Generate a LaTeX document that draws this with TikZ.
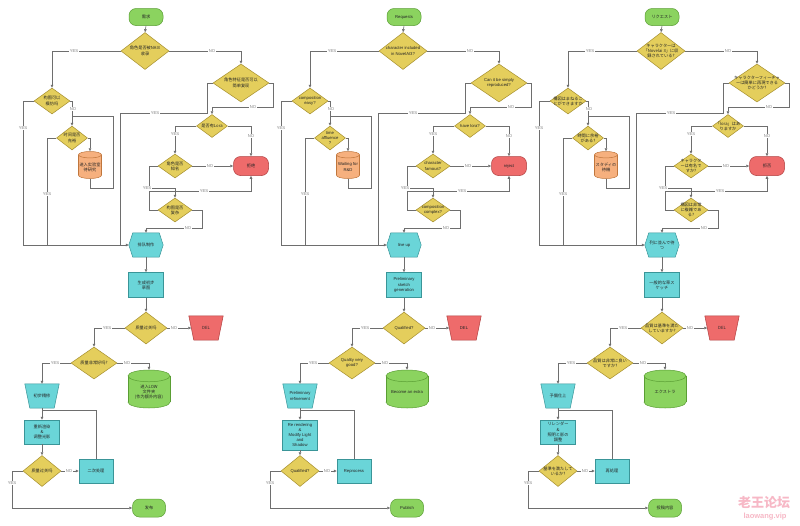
\documentclass[tikz,border=0pt]{standalone}
\usepackage{fontspec}
\setmainfont{Liberation Sans}
\newfontfamily\cnfont{Noto Sans CJK SC}
\newfontfamily\jpfont{Noto Sans CJK JP}
\usetikzlibrary{shapes.geometric,arrows.meta}
\definecolor{gF}{HTML}{8BD35F}
\definecolor{gD}{HTML}{5A9E34}
\definecolor{yF}{HTML}{E4CE5C}
\definecolor{yD}{HTML}{A68F2E}
\definecolor{oF}{HTML}{F6B07E}
\definecolor{oD}{HTML}{C0763C}
\definecolor{rF}{HTML}{EE6B6B}
\definecolor{rD}{HTML}{B04040}
\definecolor{cF}{HTML}{6AD5D8}
\definecolor{cD}{HTML}{3A9598}
\definecolor{lineC}{HTML}{6E6E6E}
\definecolor{pinkC}{HTML}{F7B8C6}
\tikzset{
  every node/.style={inner sep=0pt},
  base/.style={draw, line width=0.5pt},
  term/.style={base, rectangle, rounded corners=7pt, minimum width=34pt, minimum height=17pt, fill=gF, draw=gD},
  dia/.style={base, diamond, fill=yF, draw=yD},
  proc/.style={base, rectangle, fill=cF, draw=cD, minimum width=35pt, minimum height=25pt},
  rejs/.style={base, rectangle, rounded corners=7pt, fill=rF, draw=rD, minimum width=35pt, minimum height=19pt},
  txt/.style={align=center, font=\colfont\fontsize{4.2}{5.2}\selectfont, text=black!85},
  lab/.style={fill=white, inner sep=0.6pt, font=\fontsize{4.2}{5}\selectfont, text=black!50},
  conn/.style={draw=lineC, line width=0.6pt},
  arr/.style={conn, -{Triangle[length=3pt,width=2.6pt]}},
}
\newcommand\shp[4]{\node[#1] (#2) at (#3) {}; \node[txt] (#2-t) at (#2) {#4};}
\newcommand\cyl[6]{%
  \pgfmathsetmacro\cRx{#4/2}%
  \pgfmathsetmacro\cRy{#4*0.14}%
  \pgfmathsetmacro\cYt{#3-#5/2+\cRy}%
  \pgfmathsetmacro\cYb{#3+#5/2-\cRy}%
  \pgfmathsetmacro\cXl{#2-\cRx}%
  \pgfmathsetmacro\cXr{#2+\cRx}%
  \draw[base,#6] (#2,\cYb) ellipse [x radius=\cRx pt, y radius=\cRy pt];
  \fill[#6,draw=none] (\cXl,\cYt) rectangle (\cXr,\cYb);
  \draw[base,#6,fill=none] (\cXl,\cYt) -- (\cXl,\cYb) (\cXr,\cYt) -- (\cXr,\cYb);
  \draw[base,#6] (#2,\cYt) ellipse [x radius=\cRx pt, y radius=\cRy pt];
  \node[minimum width=#4pt,minimum height=#5pt] (#1) at (#2,#3) {};
}
\newcommand\trapz[4]{%
  \node[minimum width=34pt,minimum height=24pt] (#1) at (#2) {};
  \draw[base,#3] (#1.north west) -- (#1.north east) -- ([xshift=-5pt]#1.south east) -- ([xshift=5pt]#1.south west) -- cycle;
  \node[txt] (#1-t) at (#1) {#4};
}
\newcommand\flow[2]{%
\begin{scope}[xshift=#1pt]
  \shp{term}{#2st}{146,17}{\tSt}
  \shp{dia,minimum width=48pt,minimum height=37pt}{#2d1}{145,51}{\tDa}
  \shp{dia,minimum width=56pt,minimum height=38pt}{#2d3}{241,83}{\tDc}
  \shp{dia,minimum width=36pt,minimum height=26pt}{#2d2}{52,101}{\tDb}
  \shp{dia,minimum width=31pt,minimum height=24pt}{#2d4}{72,138}{\tDd}
  \cyl{#2co}{90}{165}{23}{27}{fill=oF,draw=oD}
  \node[txt] (#2co-t) at ([yshift=-2pt]#2co) {\tCo};
  \shp{dia,minimum width=31pt,minimum height=23pt}{#2lo}{212,126}{\tLo}
  \shp{dia,minimum width=34pt,minimum height=24pt}{#2fa}{175,166}{\tFa}
  \shp{rejs}{#2rj}{251,166}{\tRj}
  \shp{dia,minimum width=34pt,minimum height=24pt}{#2cp}{175,210}{\tCp}
  \node[minimum width=34pt,minimum height=24pt] (#2hx) at (146,245) {};
  \draw[base,fill=cF,draw=cD] (#2hx.west) -- ([xshift=4pt]#2hx.north west) -- ([xshift=-4pt]#2hx.north east) -- (#2hx.east) -- ([xshift=-4pt]#2hx.south east) -- ([xshift=4pt]#2hx.south west) -- cycle;
  \node[txt] (#2hx-t) at (#2hx) {\tHx};
  \shp{proc}{#2sk}{146,285}{\tSk}
  \shp{dia,minimum width=42pt,minimum height=32pt}{#2q1}{146,328}{\tQa}
  \trapz{#2dl}{206,328}{fill=rF,draw=rD}{DEL}
  \shp{dia,minimum width=46pt,minimum height=32pt}{#2q2}{94,363}{\tQb}
  \cyl{#2cg}{149}{389}{42}{38}{fill=gF,draw=gD}
  \node[txt] (#2cg-t) at ([yshift=-3pt]#2cg) {\tCg};
  \trapz{#2rf}{42,396}{fill=cF,draw=cD}{\tRf}
  \shp{proc,minimum height=\rrH}{#2rr}{42,\rrY}{\tRr}
  \shp{dia,minimum width=38pt,minimum height=31pt}{#2q3}{42,471}{\tQc}
  \shp{proc,minimum width=34pt,minimum height=24pt}{#2rp}{96,471}{\tRp}
  \shp{term,minimum width=33pt,minimum height=18pt}{#2pb}{149,508}{\tPb}
  % connectors
  \draw[arr] (#2st.south) -- (#2d1.north);
  \draw[arr] (#2d1.west) -| (#2d2.north);
  \draw[arr] (#2d1.east) -| (#2d3.north);
  \draw[arr] (#2d2.west) -| (23,245) -- (#2hx.west);
  \draw[arr] (#2d2.east) -| (#2d4.north);
  \draw[conn] (#2co.south) |- (113,188) |- (72,116);
  \draw[conn] (#2d4.west) -| (47,245);
  \draw[arr] (#2d4.east) -| (#2co.north);
  \draw[conn] (#2d3.west) -| (207,113) -| (120,245);
  \draw[arr] (#2d3.east) -| (273,107) -| (#2lo.north);
  \draw[arr] (#2lo.west) -| (#2fa.north);
  \draw[arr] (#2lo.east) -| (#2rj.north);
  \draw[arr] (#2fa.east) -- (#2rj.west);
  \draw[arr] (#2fa.west) -| (149,188) -| (#2cp.north);
  \draw[arr] (#2cp.west) -| (149,191) -| (#2rj.south);
  \draw[arr] (#2cp.east) -| (202,228) -| (#2hx.north);
  \draw[arr] (#2hx.south) -- (#2sk.north);
  \draw[arr] (#2sk.south) -- (#2q1.north);
  \draw[arr] (#2q1.east) -- ([xshift=2.5pt]#2dl.west);
  \draw[arr] (#2q1.west) -| (#2q2.north);
  \draw[arr] (#2q2.west) -| (#2rf.north);
  \draw[arr] (#2q2.east) -| (#2cg.north);
  \draw[arr] (#2rf.south) -- (#2rr.north);
  \draw[arr] (#2rr.south) -- (#2q3.north);
  \draw[arr] (#2q3.east) -- (#2rp.west);
  \draw[conn] (#2rp.north) |- (42,410);
  \draw[arr] (#2q3.west) -| (12,508) -- (#2pb.west);
  % labels
  \node[lab] (#2l1) at (74,51) {YES};
  \node[lab] (#2l2) at (212,51) {NO};
  \node[lab] (#2l3) at (23,128) {YES};
  \node[lab] (#2l4) at (73,109) {NO};
  \node[lab] (#2l5) at (47,194) {YES};
  \node[lab] (#2l6) at (155,113) {YES};
  \node[lab] (#2l7) at (253,107) {NO};
  \node[lab] (#2l8) at (175,134) {YES};
  \node[lab] (#2l9) at (251,136) {NO};
  \node[lab] (#2l10) at (210,166) {NO};
  \node[lab] (#2l11) at (147,188) {YES};
  \node[lab] (#2l12) at (204,191) {YES};
  \node[lab] (#2l13) at (188,228) {NO};
  \node[lab] (#2l14) at (174,328) {NO};
  \node[lab] (#2l15) at (107,328) {YES};
  \node[lab] (#2l16) at (55,363) {YES};
  \node[lab] (#2l17) at (127,363) {NO};
  \node[lab] (#2l18) at (69,471) {NO};
  \node[lab] (#2l19) at (12,483) {YES};
\end{scope}}
\begin{document}
\begin{tikzpicture}[x=1pt,y=-1pt]
\useasboundingbox[fill=white] (0,0) rectangle (800,525);
% ---------- column 1 (Chinese)
\def\colfont{\cnfont}
\def\tSt{需求}
\def\tDa{角色是否被NAI3\\收录}
\def\tDc{角色特征是否可以\\简单复现}
\def\tDb{构图可以\\模仿吗}
\def\tDd{时间是否\\充裕}
\def\tCo{进入实验室\\待研究}
\def\tLo{是否有Lora}
\def\tFa{角色是否\\知名}
\def\tRj{拒绝}
\def\tCp{构图是否\\复杂}
\def\tHx{排队制作}
\def\tSk{生成初步\\草图}
\def\tQa{质量过关吗}
\def\tQb{质量非常好吗?}
\def\tCg{进入LOW\\文件夹\\(作为额外内容)}
\def\tRf{初步精修}
\def\tRr{重新渲染\\\&\\调整光影}
\def\tQc{质量过关吗}
\def\tRp{二次处理}
\def\tPb{发布}
\def\rrY{432}\def\rrH{24pt}
\flow{0}{a}
% ---------- column 2 (English)
\def\colfont{\rmfamily}
\def\tSt{Requests}
\def\tDa{character included\\in NovelAI3?}
\def\tDc{Can it be simply\\reproduced?}
\def\tDb{composition\\easy?}
\def\tDd{time\\affluence\\?}
\def\tCo{Waiting for\\R\&D}
\def\tLo{have lora?}
\def\tFa{character\\famous?}
\def\tRj{reject}
\def\tCp{composition\\complex?}
\def\tHx{line up}
\def\tSk{Preliminary\\sketch\\generation}
\def\tQa{Qualified?}
\def\tQb{Quality very\\good?}
\def\tCg{Become an extra}
\def\tRf{Preliminary\\refinement}
\def\tRr{Re rendering\\\&\\Modify Light\\and\\Shadow}
\def\tQc{Qualified?}
\def\tRp{Reprocess}
\def\tPb{Publish}
\def\rrY{435}\def\rrH{30pt}
\flow{258}{b}
% ---------- column 3 (Japanese)
\def\colfont{\jpfont}
\def\tSt{リクエスト}
\def\tDa{キャラクターは\\「Novelai 3」に収\\録されている?}
\def\tDc{キャラクターフィーチャ\\ーは簡単に再現できる\\かどうか?}
\def\tDb{構図はまねるこ\\とができますか}
\def\tDd{時間に余裕\\がある?}
\def\tCo{スタディの\\待機}
\def\tLo{「lora」はあ\\りますか}
\def\tFa{キャラクタ\\ーは有名で\\すか?}
\def\tRj{拒否}
\def\tCp{構図は非常\\に複雑であ\\る?}
\def\tHx{列に並んで待\\つ}
\def\tSk{一般的な草ス\\ケッチ}
\def\tQa{品質は基準を満た\\していますか?}
\def\tQb{品質は非常に良い\\ですか?}
\def\tCg{エクストラ}
\def\tRf{予備仕上}
\def\tRr{リレンダー\\\&\\照明と影の\\調整}
\def\tQc{基準を満たして\\いるか?}
\def\tRp{再処理}
\def\tPb{投稿内容}
\def\rrY{432}\def\rrH{24pt}
\flow{516}{c}
% watermark
\node[font=\cnfont\bfseries\fontsize{13}{13}\selectfont, text=pinkC] (wm1) at (764,503) {老王论坛};
\node[font=\bfseries\fontsize{7.5}{8}\selectfont, text=pinkC] (wm2) at (765,517) {laowang.vip};
\end{tikzpicture}
\end{document}
